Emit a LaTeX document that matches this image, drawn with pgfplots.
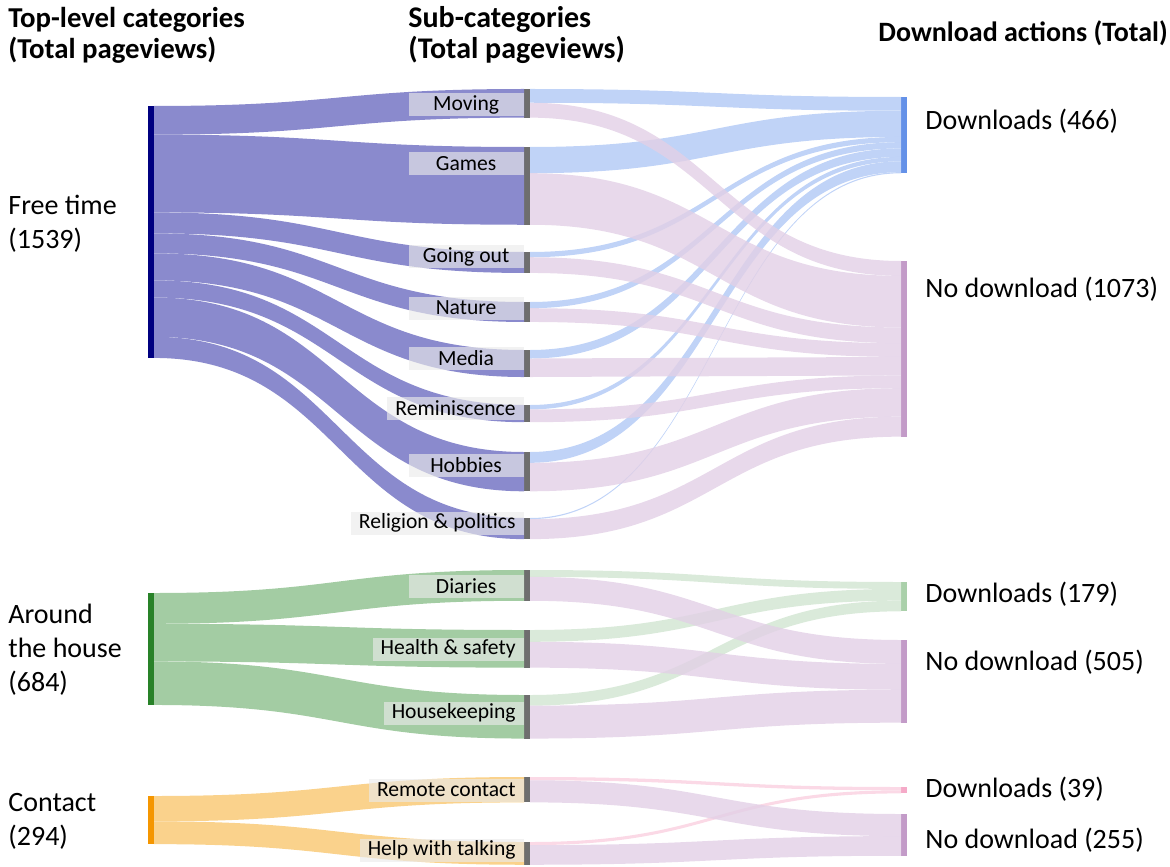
\documentclass[border=0pt]{standalone}
\usepackage{pgfplots}
\pgfplotsset{compat=1.18}
\usepackage{fontspec}
\setmainfont{Carlito}

% colours
\definecolor{ftbar}{RGB}{0,0,128}
\definecolor{ftflow}{RGB}{138,138,205}
\definecolor{ahbar}{RGB}{40,130,40}
\definecolor{ahflow}{RGB}{163,204,163}
\definecolor{cobar}{RGB}{245,150,0}
\definecolor{coflow}{RGB}{250,210,140}
\definecolor{subbar}{RGB}{110,110,110}
\definecolor{dlbar}{RGB}{100,145,232}
\definecolor{dlflow}{RGB}{183,205,246}
\definecolor{ndbar}{RGB}{195,155,200}
\definecolor{ndflow}{RGB}{226,208,230}
\definecolor{dlgbar}{RGB}{170,208,170}
\definecolor{dlgflow}{RGB}{213,231,213}
\definecolor{dlpbar}{RGB}{245,170,200}
\definecolor{dlpflow}{RGB}{250,212,226}
\definecolor{boxfill}{RGB}{234,234,234}

\tikzset{
  lab/.style={fill=boxfill, fill opacity=0.64, text opacity=1, anchor=east,
     minimum width=57.5pt, minimum height=11.5pt, inner xsep=4pt, inner ysep=0pt,
     font=\fontsize{10.8}{12}\selectfont},
  big/.style={anchor=west, align=left, font=\fontsize{14}{17}\selectfont, inner sep=0pt},
  ttl/.style={anchor=west, align=left, font=\fontsize{14.4}{15.5}\selectfont\bfseries, inner sep=0pt},
}

% pixels per pageview
\def\sc{0.1637}
\newcommand\setoff[2]{\expandafter\xdef\csname off@#1\endcsname{#2}}
\newcommand\getoff[1]{\csname off@#1\endcsname}
% node bar: name, x, top, value, colour
\newcommand\nodebar[5]{%
  \setoff{#1-in}{#3}\setoff{#1-out}{#3}%
  \pgfmathsetmacro\yb{#3+#4*\sc}%
  \pgfmathsetmacro\xb{#2+6}%
  \edef\temp{\noexpand\addplot[fill=#5,draw=none,forget plot] coordinates {(#2,#3) (\xb,#3) (\xb,\yb) (#2,\yb)} --cycle;}%
  \temp}
% link: source, target, value, style, x source, x target
\newcommand\link[6]{%
  \pgfmathsetmacro\ya{\getoff{#1-out}}%
  \pgfmathsetmacro\yb{\ya+#3*\sc}%
  \pgfmathsetmacro\yc{\getoff{#2-in}}%
  \pgfmathsetmacro\yd{\yc+#3*\sc}%
  \setoff{#1-out}{\yb}\setoff{#2-in}{\yd}%
  \pgfmathsetmacro\xm{(#5+#6)/2}%
  \edef\temp{\noexpand\fill[#4] (axis cs:#5,\ya) .. controls (axis cs:\xm,\ya) and (axis cs:\xm,\yc) .. (axis cs:#6,\yc) -- (axis cs:#6,\yd) .. controls (axis cs:\xm,\yd) and (axis cs:\xm,\yb) .. (axis cs:#5,\yb) -- cycle;}%
  \temp}

\begin{document}
\begin{tikzpicture}
\begin{axis}[
  width=585pt, height=433pt, scale only axis,
  xmin=0, xmax=1170, ymin=0, ymax=866, y dir=reverse,
  hide axis, clip=false,
]
% invisible frame fixing the picture's extent
\path (axis cs:0,0) rectangle (axis cs:1170,866);
% ---- nodes (name, x, top px, value, colour)
\nodebar{FT}{148}{106}{1539}{ftbar}
\nodebar{AH}{148}{593}{684}{ahbar}
\nodebar{CO}{148}{796}{294}{cobar}
\nodebar{mv}{524}{89}{175}{subbar}
\nodebar{gm}{524}{147}{475}{subbar}
\nodebar{go}{524}{252}{128}{subbar}
\nodebar{na}{524}{302}{122}{subbar}
\nodebar{me}{524}{350}{165}{subbar}
\nodebar{re}{524}{405}{105}{subbar}
\nodebar{ho}{524}{452}{240}{subbar}
\nodebar{rp}{524}{518}{129}{subbar}
\nodebar{di}{524}{570}{188}{subbar}
\nodebar{hs}{524}{630}{230}{subbar}
\nodebar{hk}{524}{695}{266}{subbar}
\nodebar{rc}{524}{777}{155}{subbar}
\nodebar{hw}{524}{842}{139}{subbar}
\nodebar{dA}{901}{97}{466}{dlbar}
\nodebar{nA}{901}{261}{1073}{ndbar}
\nodebar{dB}{901}{582}{179}{dlgbar}
\nodebar{nB}{901}{640}{505}{ndbar}
\nodebar{dC}{901}{787}{39}{dlpbar}
\nodebar{nC}{901}{814}{255}{ndbar}

% ---- top-level -> sub-categories
\link{FT}{mv}{175}{ftflow}{154}{524}
\link{FT}{gm}{475}{ftflow}{154}{524}
\link{FT}{go}{128}{ftflow}{154}{524}
\link{FT}{na}{122}{ftflow}{154}{524}
\link{FT}{me}{165}{ftflow}{154}{524}
\link{FT}{re}{105}{ftflow}{154}{524}
\link{FT}{ho}{240}{ftflow}{154}{524}
\link{FT}{rp}{129}{ftflow}{154}{524}
\link{AH}{di}{188}{ahflow}{154}{524}
\link{AH}{hs}{230}{ahflow}{154}{524}
\link{AH}{hk}{266}{ahflow}{154}{524}
\link{CO}{rc}{155}{coflow}{154}{524}
\link{CO}{hw}{139}{coflow}{154}{524}

% ---- sub-categories -> downloads (downloads first: top of each node)
\link{mv}{dA}{84}{dlflow,opacity=0.88}{530}{901}
\link{gm}{dA}{160}{dlflow,opacity=0.88}{530}{901}
\link{go}{dA}{32}{dlflow,opacity=0.88}{530}{901}
\link{na}{dA}{38}{dlflow,opacity=0.88}{530}{901}
\link{me}{dA}{52}{dlflow,opacity=0.88}{530}{901}
\link{re}{dA}{27}{dlflow,opacity=0.88}{530}{901}
\link{ho}{dA}{66}{dlflow,opacity=0.88}{530}{901}
\link{rp}{dA}{7}{dlflow,opacity=0.88}{530}{901}
\link{mv}{nA}{91}{ndflow,opacity=0.8}{530}{901}
\link{gm}{nA}{315}{ndflow,opacity=0.8}{530}{901}
\link{go}{nA}{96}{ndflow,opacity=0.8}{530}{901}
\link{na}{nA}{84}{ndflow,opacity=0.8}{530}{901}
\link{me}{nA}{113}{ndflow,opacity=0.8}{530}{901}
\link{re}{nA}{78}{ndflow,opacity=0.8}{530}{901}
\link{ho}{nA}{174}{ndflow,opacity=0.8}{530}{901}
\link{rp}{nA}{122}{ndflow,opacity=0.8}{530}{901}
\link{di}{dB}{42}{dlgflow,opacity=0.88}{530}{901}
\link{hs}{dB}{72}{dlgflow,opacity=0.88}{530}{901}
\link{hk}{dB}{65}{dlgflow,opacity=0.88}{530}{901}
\link{di}{nB}{146}{ndflow,opacity=0.8}{530}{901}
\link{hs}{nB}{158}{ndflow,opacity=0.8}{530}{901}
\link{hk}{nB}{201}{ndflow,opacity=0.8}{530}{901}
\link{rc}{dC}{20}{dlpflow,opacity=0.88}{530}{901}
\link{hw}{dC}{19}{dlpflow,opacity=0.88}{530}{901}
\link{rc}{nC}{135}{ndflow,opacity=0.8}{530}{901}
\link{hw}{nC}{120}{ndflow,opacity=0.8}{530}{901}

% ---- sub-category labels
\node[lab] at (axis cs:524,104.5) {Moving};
\node[lab] at (axis cs:524,163.5) {Games};
\node[lab] at (axis cs:524,256.5) {Going out};
\node[lab] at (axis cs:524,308) {Nature};
\node[lab] at (axis cs:524,358) {Media};
\node[lab] at (axis cs:524,408) {Reminiscence};
\node[lab] at (axis cs:524,465) {Hobbies};
\node[lab] at (axis cs:524,523) {Religion \& politics};
\node[lab] at (axis cs:524,586) {Diaries};
\node[lab] at (axis cs:524,649) {Health \& safety};
\node[lab] at (axis cs:524,713) {Housekeeping};
\node[lab] at (axis cs:524,790) {Remote contact};
\node[lab] at (axis cs:524,850) {Help with talking};

% ---- left labels
\node[big] at (axis cs:8,224) {Free time\\(1539)};
\node[big] at (axis cs:8,650) {Around\\the house\\(684)};
\node[big] at (axis cs:8,821) {Contact\\(294)};

% ---- right labels
\node[big] at (axis cs:925,121) {Downloads (466)};
\node[big] at (axis cs:925,289) {No download (1073)};
\node[big] at (axis cs:925,594) {Downloads (179)};
\node[big] at (axis cs:925,662) {No download (505)};
\node[big] at (axis cs:925,789) {Downloads (39)};
\node[big] at (axis cs:925,840) {No download (255)};

% ---- titles
\node[ttl] at (axis cs:8,35) {Top-level categories\\(Total pageviews)};
\node[ttl, font=\fontsize{15}{15.5}\selectfont\bfseries] at (axis cs:408,35) {Sub-categories\\(Total pageviews)};
\node[ttl, font=\fontsize{14}{15.5}\selectfont\bfseries] at (axis cs:878,33) {Download actions (Total)};
\end{axis}
\end{tikzpicture}
\end{document}
